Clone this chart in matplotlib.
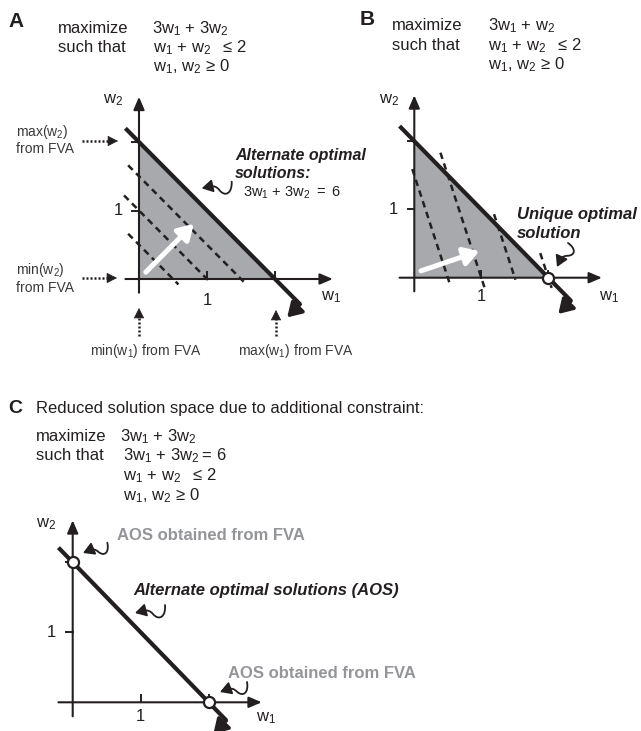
import numpy as np
import matplotlib
matplotlib.use("Agg")
import matplotlib.pyplot as plt
from matplotlib.path import Path
from matplotlib.patches import FancyArrowPatch, Polygon

plt.rcParams['font.family'] = ['Liberation Sans', 'DejaVu Sans']
plt.rcParams['mathtext.fontset'] = 'custom'
plt.rcParams['mathtext.rm'] = 'Liberation Sans'
plt.rcParams['mathtext.it'] = 'Liberation Sans:italic'
plt.rcParams['mathtext.bf'] = 'Liberation Sans:bold'

# ---------------- data ----------------
constraint_coef = [1, 1]          # w1 + w2 <= 2
constraint_rhs = 2
objective_A = [3, 3]              # maximize 3w1 + 3w2
objective_B = [3, 1]              # maximize 3w1 + w2
levels_A = [1.5, 3.0, 4.5]        # iso-objective lines in panel A
levels_A_w1 = [(-0.16, 0.58), (-0.22, 1.05), (-0.16, 1.55)]
levels_B = [1.5, 3.0, 4.5, 6.0]   # iso-objective lines in panel B
levels_B_w1 = [(-0.03, 0.53), (0.39, 1.05), (1.19, 1.51), (1.88, 2.05)]
boundary_w1 = {'A': (-0.20, 2.37), 'B': (-0.22, 2.34), 'C': (-0.21, 2.26)}
optimum_B = [(2, 0)]
fva_points_C = [(0, 2), (2, 0)]
obj_arrow_start = (0.1, 0.1)
obj_arrow_len = {'A': 1.0, 'B': 0.92}
tick_values = [1, 2]
tick_label_values = [1]
x_axis_range = {'A': (-0.2, 2.85), 'B': (-0.22, 2.8), 'C': (-0.21, 2.78)}
y_axis_range = {'A': (-0.2, 2.66), 'B': (-0.2, 2.67), 'C': (-0.2, 2.6)}

W, H, DPI = 641, 731, 100
K = '#231f20'
GRAY_FILL = '#a7a9ac'
GRAY_TXT = '#939598'
FVA_TXT = '#3a3a3a'

fig = plt.figure(figsize=(W / DPI, H / DPI), dpi=DPI)


def make_axes(origin, ux, uy, xlim=(-0.8, 3.3), ylim=(-0.8, 3.0)):
    ox, oy = origin
    left = ox + xlim[0] * ux
    width = (xlim[1] - xlim[0]) * ux
    bottom_px = oy - ylim[0] * uy
    height = (ylim[1] - ylim[0]) * uy
    ax = fig.add_axes([left / W, (H - bottom_px) / H, width / W, height / H])
    ax.set_xlim(xlim)
    ax.set_ylim(ylim)
    ax.axis('off')
    ax.patch.set_visible(False)
    return ax


def draw_frame(ax, key, xlab_pos, ylab_pos, xtl_y):
    ap = dict(arrowstyle='-|>,head_length=0.7,head_width=0.3', lw=1.5, color=K,
              mutation_scale=11, shrinkA=0, shrinkB=0)
    xr, yr = x_axis_range[key], y_axis_range[key]
    ax.annotate('', xy=(xr[1], 0), xytext=(xr[0], 0), arrowprops=ap,
                annotation_clip=False, zorder=4)
    ax.annotate('', xy=(0, yr[1]), xytext=(0, yr[0]), arrowprops=ap,
                annotation_clip=False, zorder=4)
    for t in tick_values:
        ax.plot([t, t], [0, 0.1], color=K, lw=1.4, zorder=4, clip_on=False)
        ax.plot([-0.1, 0], [t, t], color=K, lw=1.4, zorder=4, clip_on=False)
    for t in tick_label_values:
        ax.text(t, xtl_y, str(t), ha='center', va='center', fontsize=12, color=K)
        ax.text(-0.31, t, str(t), ha='center', va='center', fontsize=12, color=K)
    ax.text(*xlab_pos, r'$\mathregular{w_1}$', ha='center', va='center', fontsize=12, color=K)
    ax.text(*ylab_pos, r'$\mathregular{w_2}$', ha='center', va='center', fontsize=12, color=K)


def draw_boundary(ax, key):
    c1, c2 = constraint_coef
    w1 = np.array(boundary_w1[key])
    w2 = (constraint_rhs - c1 * w1) / c2
    ax.plot(w1, w2, color=K, lw=3.0, solid_capstyle='butt', zorder=5, clip_on=False)
    n = np.array(constraint_coef, float)
    n = n / np.hypot(*n)
    end = np.array([w1[1], w2[1]])
    tip = end - 0.27 * n
    ar = FancyArrowPatch(tuple(end), tuple(tip),
                         arrowstyle='-|>,head_length=0.65,head_width=0.4',
                         mutation_scale=13, lw=2.6, color=K, shrinkA=0, shrinkB=0,
                         zorder=5, clip_on=False)
    ax.add_patch(ar)


def draw_feasible(ax):
    c1, c2 = constraint_coef
    poly = Polygon([(0, 0), (constraint_rhs / c1, 0), (0, constraint_rhs / c2)],
                   closed=True, facecolor=GRAY_FILL, edgecolor='none', zorder=1)
    ax.add_patch(poly)


def draw_levels(ax, obj, levels, ranges):
    a, b = obj
    for c, (lo, hi) in zip(levels, ranges):
        w1 = np.array([lo, hi])
        w2 = (c - a * w1) / b
        ax.plot(w1, w2, color=K, lw=1.8, dashes=(2.6, 1.9), zorder=2, clip_on=False)


def draw_obj_arrow(ax, obj, length):
    d = np.array(obj, float)
    d = d / np.hypot(*d)
    s = np.array(obj_arrow_start)
    e = s + length * d
    ax.annotate('', xy=tuple(e), xytext=tuple(s),
                arrowprops=dict(arrowstyle='-|>,head_length=0.75,head_width=0.45', lw=3.6,
                                color='white', mutation_scale=12, shrinkA=0, shrinkB=0),
                zorder=3)


# ---------------- panel A ----------------
axA = make_axes((139, 279), 68, 68.5)
draw_feasible(axA)
draw_levels(axA, objective_A, levels_A, levels_A_w1)
draw_obj_arrow(axA, objective_A, obj_arrow_len['A'])
draw_frame(axA, 'A', (2.82, -0.27), (-0.38, 2.61), -0.31)
draw_boundary(axA, 'A')

# ---------------- panel B ----------------
axB = make_axes((414.3, 277.7), 67, 68.3)
draw_feasible(axB)
draw_levels(axB, objective_B, levels_B, levels_B_w1)
draw_obj_arrow(axB, objective_B, obj_arrow_len['B'])
draw_frame(axB, 'B', (2.9, -0.28), (-0.38, 2.6), -0.27)
draw_boundary(axB, 'B')
for (x, y) in optimum_B:
    axB.plot(x, y, 'o', ms=8, mfc='white', mec=K, mew=1.6, zorder=7, clip_on=False)

# ---------------- panel C ----------------
axC = make_axes((72.7, 702.3), 68, 70)
draw_frame(axC, 'C', (2.84, -0.23), (-0.39, 2.54), -0.2)
draw_boundary(axC, 'C')
for (x, y) in fva_points_C:
    axC.plot(x, y, 'o', ms=8, mfc='white', mec=K, mew=1.6, zorder=7, clip_on=False)

# ---------------- overlay (text & pointers, pixel coordinates) ----------------
ov = fig.add_axes([0, 0, 1, 1], zorder=10)
ov.set_xlim(0, W)
ov.set_ylim(H, 0)
ov.axis('off')
ov.patch.set_visible(False)


def T(x, y, s, size=12, weight='normal', style='normal', color=K, ha='left'):
    ov.text(x, y, s, fontsize=size, fontweight=weight, fontstyle=style, color=color,
            ha=ha, va='baseline')


def M(s):
    return r'$\mathregular{' + s + '}$'


def squiggle(s, e, lw=1.3):
    s = np.array(s, float)
    e = np.array(e, float)
    d = e - s
    L = np.hypot(*d)
    dh = d / L
    n = np.array([-dh[1], dh[0]])
    u = [0, 0.069, 0.32, 0.45, 0.56, 0.74, 1.0]
    v = [0, -0.383, -0.45, -0.18, 0.048, 0.0, 0.0]
    verts = [tuple(s + L * (ui * dh + vi * n)) for ui, vi in zip(u, v)]
    codes = [Path.MOVETO] + [Path.CURVE4] * 6
    p = FancyArrowPatch(path=Path(verts, codes),
                        arrowstyle='-|>,head_length=0.55,head_width=0.32',
                        mutation_scale=12, lw=lw, color=K, clip_on=False)
    ov.add_patch(p)


def dotted_arrow(s, e):
    s = np.array(s, float)
    e = np.array(e, float)
    d = (e - s) / np.hypot(*(e - s))
    hb = e - 7 * d
    ov.plot([s[0], hb[0]], [s[1], hb[1]], color=K, lw=1.8, linestyle=(0, (0.8, 0.8)),
            solid_capstyle='butt')
    ov.add_patch(FancyArrowPatch(tuple(hb), tuple(e),
                                 arrowstyle='-|>,head_length=0.55,head_width=0.28',
                                 mutation_scale=12, lw=0.5, color=K, shrinkA=0, shrinkB=0))


OBJ_AA = M(r'3w_1\ {+}\ 3w_2')
OBJ_B = M(r'3w_1\ {+}\ w_2')
CONS = M(r'w_1\ {+}\ w_2\ \ {\leq}\,2')
NONNEG = M(r'w_1{,}\ w_2\,{\geq}\,0')
EQ_C = M(r'3w_1\ {+}\ 3w_2{=}\,6')
EQ_A = M(r'3w_1\ {+}\ 3w_2\ {=}\ 6')

# Panel A header
T(8, 27, 'A', size=15, weight='bold')
T(58, 33, 'maximize')
T(152, 33, OBJ_AA)
T(58, 52, 'such that')
T(153, 52, CONS)
T(153, 71, NONNEG)

# Panel B header
T(360, 25, 'B', size=15, weight='bold')
T(392, 30, 'maximize')
T(488, 30, OBJ_B)
T(392, 50, 'such that')
T(488, 50, CONS)
T(488, 69, NONNEG)

# Panel C header
T(8, 413, 'C', size=14, weight='bold')
T(36, 413, 'Reduced solution space due to additional constraint:')
T(36, 441, 'maximize')
T(120, 441, OBJ_AA)
T(36, 460, 'such that')
T(123, 460, EQ_C)
T(123, 480, CONS)
T(123, 500, NONNEG)

# Panel A annotations
T(235, 160, 'Alternate optimal', size=11.5, weight='bold', style='italic')
T(235, 178, 'solutions:', size=11.5, weight='bold', style='italic')
T(243, 197, EQ_A, size=10.5)
squiggle((231.7, 181.7), (201.7, 188.3))

T(16, 136, M('max(w_2)'), size=10, color=FVA_TXT)
T(16, 153, 'from FVA', size=10, color=FVA_TXT)
dotted_arrow((82, 141), (118, 141))
T(16, 274, M('min(w_2)'), size=10, color=FVA_TXT)
T(16, 292, 'from FVA', size=10, color=FVA_TXT)
dotted_arrow((82, 278), (117, 278))
T(146, 355, M('min(w_1)') + ' from FVA', size=10, color=FVA_TXT, ha='center')
dotted_arrow((139, 336), (139, 308))
T(296, 355, M('max(w_1)') + ' from FVA', size=10, color=FVA_TXT, ha='center')
dotted_arrow((276, 336), (276, 310))

# Panel B annotations
T(517, 219, 'Unique optimal', size=12, weight='bold', style='italic')
T(517, 238, 'solution', size=12, weight='bold', style='italic')
squiggle((568, 243), (557, 267))

# Panel C annotations
T(117, 540, 'AOS obtained from FVA', size=12, weight='bold', color=GRAY_TXT)
squiggle((107.3, 542.7), (83, 553))
T(133, 595, 'Alternate optimal solutions (AOS)', size=12, weight='bold', style='italic')
squiggle((165, 605), (135, 613))
T(228, 678, 'AOS obtained from FVA', size=12, weight='bold', color=GRAY_TXT)
squiggle((247, 682), (220, 692))

fig.savefig('out.png', dpi=DPI)
